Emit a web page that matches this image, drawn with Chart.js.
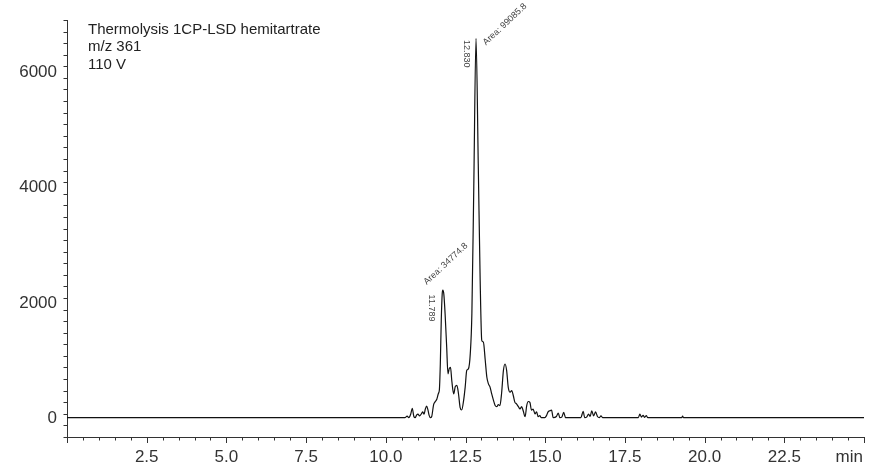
<!DOCTYPE html>
<html>
<head>
<meta charset="utf-8">
<script src="https://cdn.jsdelivr.net/npm/chart.js@4.4.1/dist/chart.umd.min.js"></script>
<style>
  html, body { margin: 0; padding: 0; background: #fff; }
  canvas { display: block; }
</style>
</head>
<body>
<canvas id="chromatogram" width="874" height="470"></canvas>
<script>
// Chromatogram trace (retention time in min, intensity)
const retentionTimes = [
  0, 10.60, 10.67, 10.72, 10.78, 10.83, 10.88, 10.92, 10.97, 11.01,
  11.06, 11.12, 11.16, 11.20, 11.24, 11.28, 11.32, 11.36, 11.40, 11.44,
  11.50, 11.54, 11.60, 11.65, 11.68, 11.71, 11.74, 11.77, 11.79, 11.82,
  11.86, 11.91, 11.95, 11.99, 12.03, 12.07, 12.13, 12.18, 12.23, 12.28,
  12.33, 12.38, 12.44, 12.49, 12.54, 12.59, 12.65, 12.70, 12.76, 12.83,
  12.90, 12.96, 13.01, 13.06, 13.12, 13.17, 13.22, 13.27, 13.32, 13.38,
  13.43, 13.48, 13.53, 13.58, 13.63, 13.69, 13.74, 13.79, 13.84, 13.90,
  13.95, 14.00, 14.05, 14.10, 14.16, 14.21, 14.26, 14.31, 14.37, 14.42,
  14.47, 14.52, 14.57, 14.62, 14.68, 14.73, 14.78, 14.83, 14.88, 14.99,
  15.04, 15.09, 15.15, 15.20, 15.25, 15.35, 15.41, 15.46, 15.52, 15.58,
  15.64, 16.12, 16.19, 16.24, 16.30, 16.36, 16.41, 16.46, 16.52, 16.58,
  16.64, 16.70, 16.75, 16.80, 17.92, 17.97, 18.02, 18.07, 18.12, 18.17,
  18.22, 19.28, 19.31, 19.34, 25
];
const intensities = [
  0, 0, 25, 0, 60, 160, 20, 0, 50, 60,
  30, 70, 100, 60, 150, 200, 140, 40, 0, 20,
  226, 270, 320, 420, 480, 930, 1690, 2150, 2210, 2140,
  1800, 1220, 760, 850, 870, 640, 410, 540, 560, 415,
  180, 133, 295, 530, 820, 845, 1110, 1800, 4000, 6570,
  4400, 2380, 1340, 1310, 990, 700, 585, 530, 415, 295,
  210, 190, 225, 210, 410, 820, 930, 820, 530, 440,
  470, 380, 265, 240, 190, 150, 190, 120, 17, 210,
  280, 265, 130, 150, 65, 100, 17, 35, 0, 0,
  35, 100, 120, 130, 0, 20, 80, 0, 10, 90,
  0, 0, 110, 0, 10, 60, 20, 120, 30, 100,
  20, 0, 30, 0, 0, 60, 10, 40, 5, 35,
  0, 0, 25, 0, 0
];

// Integrated peaks
const peakTimes = [11.789, 12.830];
const peakHeights = [2210, 6570];
const peakAreas = ['34774.8', '99085.8'];

const headerLines = ['Thermolysis 1CP-LSD hemitartrate', 'm/z 361', '110 V'];

const xMin = 0, xMax = 25, xMajor = 2.5, xMinor = 0.5;
const yMin = -335, yMax = 6890, yMajor = 2000, yMinor = 200;
const yLabels = [0, 2000, 4000, 6000];

const traceData = retentionTimes.map((t, i) => ({ x: t, y: intensities[i] }));

const FONT = '"Liberation Sans", Arial, sans-serif';

function isMultiple(v, step) {
  return Math.abs(v / step - Math.round(v / step)) < 1e-6;
}

// tick marks (major long, minor short), y labels, header text, peak labels, "min"
const decorPlugin = {
  id: 'decor',
  afterDraw(chart) {
    const ctx = chart.ctx;
    const xs = chart.scales.x;
    const ys = chart.scales.y;
    const area = chart.chartArea;
    ctx.save();
    ctx.strokeStyle = '#333';
    ctx.lineWidth = 1;
    ctx.beginPath();
    xs.ticks.forEach(t => {
      const px = Math.round(xs.getPixelForValue(t.value)) + 0.5;
      const len = isMultiple(t.value, xMajor) ? 6 : 3.5;
      ctx.moveTo(px, area.bottom);
      ctx.lineTo(px, area.bottom + len);
    });
    ys.ticks.forEach(t => {
      const py = Math.round(ys.getPixelForValue(t.value)) + 0.5;
      const len = isMultiple(t.value, yMajor) ? 6 : 3.5;
      ctx.moveTo(area.left, py);
      ctx.lineTo(area.left - len, py);
    });
    ctx.stroke();

    // y tick labels
    ctx.font = '17px ' + FONT;
    ctx.fillStyle = '#333';
    ctx.textAlign = 'right';
    ctx.textBaseline = 'middle';
    yLabels.forEach(v => ctx.fillText(String(v), area.left - 10, ys.getPixelForValue(v) + 1));

    // axis unit
    ctx.fillText('min', xs.getPixelForValue(xMax) - 1, 457);

    // header
    ctx.fillStyle = '#222';
    ctx.font = '15px ' + FONT;
    ctx.textAlign = 'left';
    ctx.textBaseline = 'alphabetic';
    headerLines.forEach((s, i) => ctx.fillText(s, 88, 33.5 + i * 17.5));

    // peak annotations
    const offs = [
      { rt: [-13.5, 4.5], area: [-16, -5] },
      { rt: [-12, 1.5], area: [10, 7] }
    ];
    ctx.font = '9px ' + FONT;
    ctx.fillStyle = '#444';
    peakTimes.forEach((t, i) => {
      const px = xs.getPixelForValue(t);
      const py = ys.getPixelForValue(peakHeights[i]);
      ctx.save();
      ctx.translate(px + offs[i].rt[0], py + offs[i].rt[1]);
      ctx.rotate(Math.PI / 2);
      ctx.textAlign = 'left';
      ctx.textBaseline = 'alphabetic';
      ctx.fillText(t.toFixed(3), 0, 0);
      ctx.restore();

      ctx.save();
      ctx.translate(px + offs[i].area[0], py + offs[i].area[1]);
      ctx.rotate(-Math.PI * 0.24);
      ctx.textAlign = 'left';
      ctx.textBaseline = 'alphabetic';
      ctx.fillText('Area: ' + peakAreas[i], 0, 0);
      ctx.restore();
    });
    ctx.restore();
  }
};

new Chart(document.getElementById('chromatogram'), {
  type: 'line',
  data: {
    datasets: [{
      data: traceData,
      borderColor: '#111',
      borderWidth: 1.2,
      pointRadius: 0,
      fill: false,
      cubicInterpolationMode: 'monotone'
    }]
  },
  options: {
    responsive: false,
    animation: false,
    devicePixelRatio: 1,
    layout: { padding: { top: 20, right: 6, left: 0, bottom: 0 } },
    plugins: { legend: { display: false }, tooltip: { enabled: false } },
    scales: {
      x: {
        type: 'linear',
        min: xMin,
        max: xMax,
        grid: { display: false, drawTicks: false },
        border: { display: true, color: '#333', width: 1 },
        ticks: {
          stepSize: xMinor,
          autoSkip: false,
          maxRotation: 0,
          padding: 10,
          color: '#333',
          font: { family: FONT, size: 17 },
          callback: v => (isMultiple(v, xMajor) && v > xMin && v < xMax) ? v.toFixed(1) : ''
        },
        afterFit: s => { s.height = 33; }
      },
      y: {
        type: 'linear',
        min: yMin,
        max: yMax,
        grid: { display: false, drawTicks: false },
        border: { display: true, color: '#333', width: 1 },
        ticks: {
          stepSize: yMinor,
          includeBounds: false,
          autoSkip: false,
          color: 'rgba(0,0,0,0)',
          font: { family: FONT, size: 12 }
        },
        afterFit: s => { s.width = 67; }
      }
    }
  },
  plugins: [decorPlugin]
});
</script>
</body>
</html>
